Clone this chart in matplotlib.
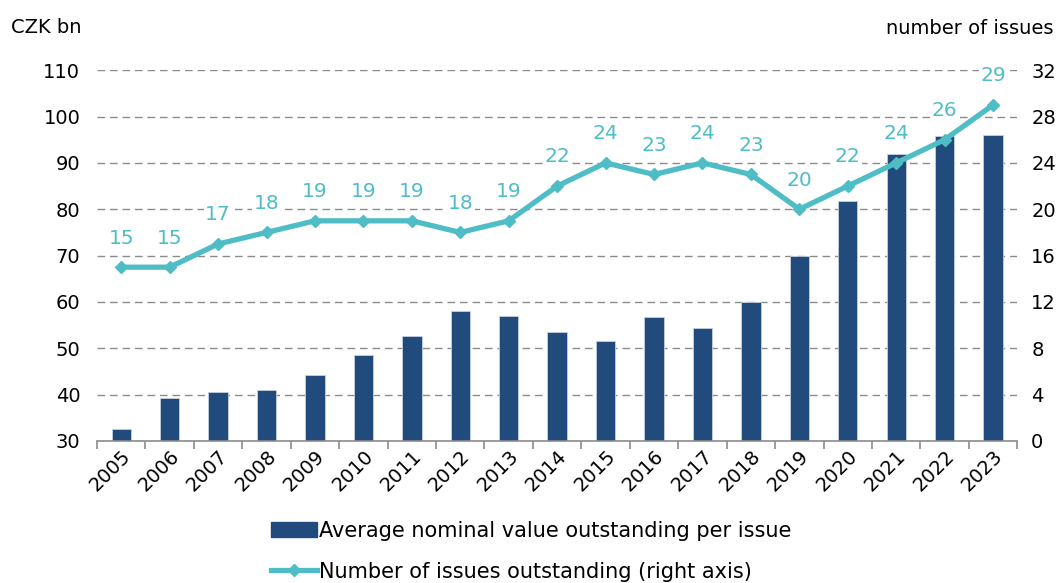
import numpy as np
import matplotlib.pyplot as plt
from matplotlib.lines import Line2D
from matplotlib.patches import Patch

years = [str(y) for y in range(2005, 2024)]
avg_value = [32.6, 39.3, 40.6, 41.0, 44.2, 48.6, 52.6, 58.0, 57.0, 53.5,
             51.5, 56.7, 54.4, 60.0, 69.9, 81.7, 92.0, 95.7, 96.1]
n_issues = [15, 15, 17, 18, 19, 19, 19, 18, 19, 22, 24, 23, 24, 23, 20, 22, 24, 26, 29]

NAVY = '#214a7d'
TEAL = '#4fbdc5'
GRID = '#8c8c8c'

plt.rcParams['font.family'] = ['DejaVu Sans']
plt.rcParams['font.size'] = 14

fig = plt.figure(figsize=(10.59, 5.83), dpi=100)
ax = fig.add_axes([0.0916, 0.2436, 0.869, 0.636])
x = np.arange(len(years))

ax.bar(x, avg_value, width=0.4, color=NAVY, edgecolor='#c5cfdd', linewidth=0.6, zorder=2)
ax.set_ylim(30, 110)
ax.set_xlim(-0.5, len(years) - 0.5)
ax.set_yticks(range(30, 111, 10))
ax.yaxis.grid(True, linestyle=(0, (5.5, 3.5)), color=GRID, linewidth=1.0, zorder=0)
ax.set_axisbelow(True)
for s in ['top', 'left', 'right']:
    ax.spines[s].set_visible(False)
ax.spines['bottom'].set_color(GRID)
ax.spines['bottom'].set_linewidth(1.2)
ax.tick_params(axis='y', length=0, pad=12)
ax.set_xticks(x)
ax.set_xticklabels(years, rotation=45, ha='right', rotation_mode='anchor')
ax.tick_params(axis='x', which='major', length=0, pad=4)
ax.set_xticks(np.arange(-0.5, len(years), 1), minor=True)
ax.tick_params(axis='x', which='minor', length=6, color=GRID, width=1.2)

ax2 = ax.twinx()
ax2.set_ylim(0, 32)
ax2.set_yticks(range(0, 33, 4))
for s in ['top', 'left', 'right', 'bottom']:
    ax2.spines[s].set_visible(False)
ax2.tick_params(axis='y', length=0, pad=10)
ax2.plot(x, n_issues, color=TEAL, linewidth=3.8, marker='D', markersize=6.5, zorder=3)
for xi, v in zip(x, n_issues):
    ax2.annotate(str(v), (xi, v), xytext=(0, 21), textcoords='offset points',
                 ha='center', va='center', color=TEAL, fontsize=14.5,
                 bbox=dict(facecolor='white', edgecolor='none', pad=1))

fig.text(0.01, 0.953, 'CZK bn', fontsize=14, va='center')
fig.text(0.995, 0.951, 'number of issues', fontsize=14, va='center', ha='right')

handles = [Patch(color=NAVY),
           Line2D([0], [0], color=TEAL, linewidth=3.8, marker='D', markersize=6.5)]
labels = ['Average nominal value outstanding per issue',
          'Number of issues outstanding (right axis)']
fig.legend(handles, labels, loc='lower left', bbox_to_anchor=(0.238, -0.03),
           frameon=False, ncol=1, fontsize=15, handlelength=2.2, handletextpad=0.12,
           labelspacing=1.0)

fig.savefig('out.png', dpi=100)
